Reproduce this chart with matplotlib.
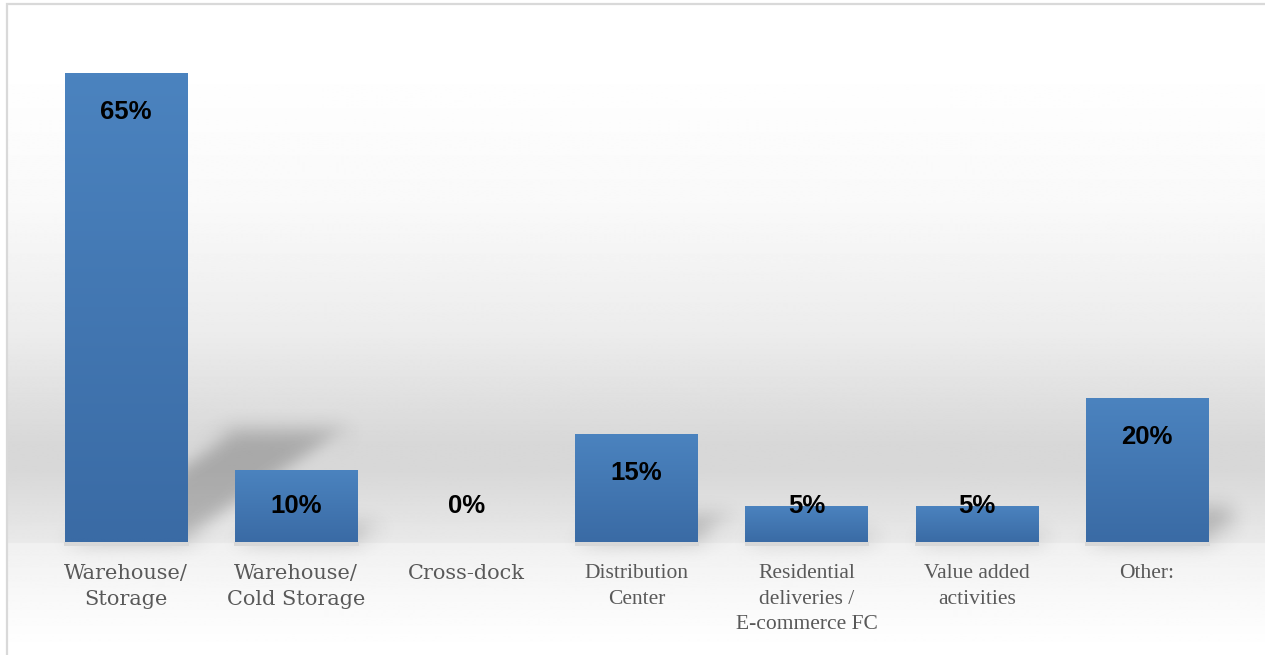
import numpy as np
import matplotlib
matplotlib.use("Agg")
import matplotlib.pyplot as plt
from matplotlib.patches import Polygon, Rectangle

categories = ["Warehouse/\nStorage", "Warehouse/\nCold Storage", "Cross-dock",
              "Distribution\nCenter", "Residential\ndeliveries /\nE-commerce FC",
              "Value added\nactivities", "Other:"]
shares = [65, 10, 0, 15, 5, 5, 20]
value_labels = ["65%", "10%", "0%", "15%", "5%", "5%", "20%"]

W, H = 1265, 655
fig = plt.figure(figsize=(W / 100, H / 100), dpi=100)


def blur(sigma):
    # gaussian blur for agg_filter (separable, shifted sums)
    r = int(3 * sigma)
    k = np.exp(-0.5 * (np.arange(-r, r + 1) / sigma) ** 2)
    k /= k.sum()

    def f(im, dpi):
        a = np.pad(im, ((r, r), (r, r), (0, 0)))
        out = np.zeros_like(a)
        for j, w in enumerate(k):
            out += w * np.roll(a, j - r, axis=0)
        a, out = out, np.zeros_like(out)
        for j, w in enumerate(k):
            out += w * np.roll(a, j - r, axis=1)
        return out, -r, -r
    return f


# background: wall gradient + floor
bg = fig.add_axes([0, 0, 1, 1], zorder=-5)
bg.set_axis_off()
ys = np.array([0, 80, 200, 330, 440, 470, 541, 542, 560, 600, 640, 655])
vs = np.array([255, 254, 249, 236, 216, 216, 233, 240, 243, 249, 254, 255])
prof = np.interp(np.arange(H), ys, vs) / 255.0
img = np.repeat(prof[:, None], 2, axis=1)
bg.imshow(img, cmap="gray", vmin=0, vmax=1, aspect="auto",
          extent=[8 / W, 1, 0, 1 - 5 / H], interpolation="bilinear")
bg.set_xlim(0, 1)
bg.set_ylim(0, 1)
bg.add_patch(Rectangle((6.5 / W, -0.1), 1.2, 1.1 - 3.5 / H, fill=False,
                       ec="#d9d9d9", lw=1.6, transform=bg.transAxes, clip_on=False))

ax = fig.add_axes([41 / W, (H - 542) / H, 1191 / W, 505 / H])
ax.patch.set_alpha(0)
ax.set_xlim(-0.5, 6.5)
ax.set_ylim(0, 70)
for s in ax.spines.values():
    s.set_visible(False)
ax.set_yticks([])

x = np.arange(len(shares))
width = 0.72
bars = ax.bar(x, shares, width, color="#4479b4", zorder=3)

# bar gradient fill
grad = np.linspace(0, 1, 64)[:, None]
top_c = np.array([0x4b, 0x83, 0xbf]) / 255
bot_c = np.array([0x3a, 0x6b, 0xa5]) / 255
rgb = top_c * (1 - grad[..., None]) + bot_c * grad[..., None]
for b, v in zip(bars, shares):
    if v <= 0:
        continue
    x0 = b.get_x()
    im = ax.imshow(rgb, extent=[x0, x0 + width, 0, v], aspect="auto",
                   zorder=4, interpolation="bilinear")
    im.set_clip_path(b)

# thin contact shadow under each bar
for b, v in zip(bars, shares):
    if v <= 0:
        continue
    ax.add_patch(Rectangle((b.get_x() - 0.004, -0.55), width + 0.012, 0.55,
                           fc="#d8d8d8", ec="none", zorder=2.5, clip_on=False))

# perspective shadows behind the bars
for xi, v in zip(x, shares):
    if v <= 0:
        continue
    x0, x1 = xi - width / 2, xi + width / 2
    sh = 0.0149 * v
    poly = Polygon([(x0, 0), (x1, 0), (x1 + sh, 0.24 * v), (x0 + sh, 0.24 * v)],
                   closed=True, fc="black", ec="none", alpha=0.22, zorder=2)
    poly.set_agg_filter(blur(10))
    poly.set_rasterized(True)
    ax.add_patch(poly)
ax.set_ylim(0, 70)
ax.set_xlim(-0.5, 6.5)

# value labels
for xi, v, lab in zip(x, shares, value_labels):
    ax.text(xi, max(v - 5.4, 5.0), lab, ha="center", va="center",
            fontsize=18.5, fontweight="bold", family="Liberation Sans",
            color="black", zorder=6)

ax.set_xticks(x, categories)
ax.tick_params(axis="x", length=0, pad=16, colors="#595959")
for i, t in enumerate(ax.get_xticklabels()):
    if i < 3:
        t.set_family("DejaVu Serif")
        t.set_fontsize(15)
        t.set_linespacing(1.45)
    else:
        t.set_family("Liberation Serif")
        t.set_fontsize(15.5)
        t.set_linespacing(1.45)

fig.savefig("out.png", dpi=100)
